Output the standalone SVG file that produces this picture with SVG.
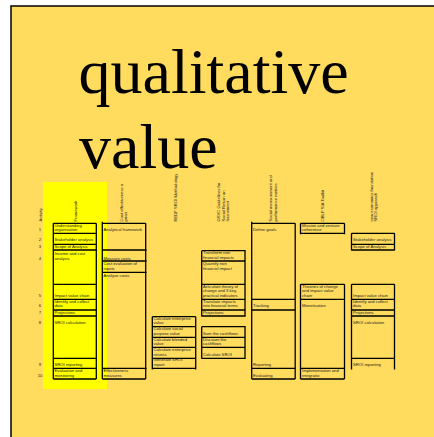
<svg xmlns="http://www.w3.org/2000/svg" width="434" height="437" viewBox="0 0 434 437">
  <style>
    .bg { fill: #FFDB5E; stroke: #000; stroke-width: 1.5; }
    .title { font-family: "Liberation Serif", "Times New Roman", serif; font-size: 64px; fill: #000; }
    .grid { fill: none; stroke: #000; stroke-width: 1.3; }
    .t { font-family: "Liberation Sans", Arial, sans-serif; font-size: 4.2px; fill: #222; }
    .num { font-family: "Liberation Sans", Arial, sans-serif; font-size: 4.2px; fill: #222; text-anchor: middle; }
  </style>

  <!-- page -->
  <rect x="0" y="0" width="434" height="437" fill="#fff"/>
  <rect class="bg" x="11" y="6" width="440" height="440"/>

  <!-- heading -->
  <g id="heading">
    <text class="title" x="78.5" y="93">qualitative</text>
    <text class="title" x="79" y="168">value</text>
  </g>

  <!-- highlighted framework column -->
  <rect x="43" y="182" width="64" height="207" fill="#FFFF00"/>

  <!-- column headings (rotated) -->
  <g id="headings" class="t">
    <text transform="translate(41.5,221.5) rotate(-90)">Activity</text>
    <text transform="translate(76.5,221.5) rotate(-90)">Framework</text>
    <text transform="translate(123,221.5) rotate(-90)">Cost effectiveness a</text>
    <text transform="translate(127.3,221.5) rotate(-90)">priori</text>
    <text transform="translate(176.5,221.5) rotate(-90)">REDF SROI Methodology</text>
    <text transform="translate(219.7,221.5) rotate(-90)">GSVC Guidelines for</text>
    <text transform="translate(224.5,221.5) rotate(-90)">Social Return on</text>
    <text transform="translate(229.3,221.5) rotate(-90)">Investment</text>
    <text transform="translate(272,221.5) rotate(-90)">Social measurement and</text>
    <text transform="translate(277,221.5) rotate(-90)">performance metrics</text>
    <text transform="translate(324,221.5) rotate(-90)">OBLP SIA Toolkit</text>
    <text transform="translate(372.5,221.5) rotate(-90)">new economics foundation</text>
    <text transform="translate(377.3,221.5) rotate(-90)">SROI approach</text>
  </g>

  <!-- activity numbers -->
  <g id="activity">
    <text class="num" x="40" y="230.5">1</text>
    <text class="num" x="40" y="241.2">2</text>
    <text class="num" x="40" y="248">3</text>
    <text class="num" x="40" y="259.5">4</text>
    <text class="num" x="40" y="296.5">5</text>
    <text class="num" x="40" y="307.2">6</text>
    <text class="num" x="40" y="314">7</text>
    <text class="num" x="40" y="324">8</text>
    <text class="num" x="40" y="365.5">9</text>
    <text class="num" x="40" y="376.5">10</text>
  </g>

  <!-- Framework -->
  <g id="framework">
    <path class="grid" d="M53.3,223.3V379 M96.3,223.3V379 M53.3,223.3H96.3 M53.3,233.3H96.3 M53.3,244.3H96.3 M53.3,250H96.3 M53.3,284.3H96.3 M53.3,299.3H96.3 M53.3,310H96.3 M53.3,316H96.3 M53.3,358.3H96.3 M53.3,368.3H96.3 M53.3,379H96.3"/>
    <g class="t">
      <text x="54.5" y="227">Understanding</text>
      <text x="54.5" y="231">organisation</text>
      <text x="54.5" y="241.2">Stakeholder analysis</text>
      <text x="54.5" y="248">Scope of  Analysis</text>
      <text x="54.5" y="254.5">Income and cost</text>
      <text x="54.5" y="259.5">analysis</text>
      <text x="54.5" y="296.5">Impact value chain</text>
      <text x="54.5" y="302.5">Identify and collect</text>
      <text x="54.5" y="307.2">data</text>
      <text x="54.5" y="314">Projections</text>
      <text x="54.5" y="324">SROI calculation</text>
      <text x="54.5" y="365.5">SROI reporting</text>
      <text x="54.5" y="371.5">Evaluation and</text>
      <text x="54.5" y="376.5">monitoring</text>
    </g>
  </g>

  <!-- Cost effectiveness -->
  <g id="cost-effectiveness">
    <path class="grid" d="M102.3,221.8V379 M145.7,223.3V379 M102.3,223.3H145.7 M102.3,250H146.7 M102.3,261H146.7 M102.3,272.3H146.7 M102.3,368.3H146.7 M102.3,379H145.7"/>
    <g class="t">
      <text x="103.5" y="230.5">Analytical framework</text>
      <text x="103.5" y="259.5">Measure costs</text>
      <text x="103.5" y="264.5">Cost evaluation of</text>
      <text x="103.5" y="269.5">inputs</text>
      <text x="103.5" y="276.5">Analyse costs</text>
      <text x="103.5" y="371.5">Effectiveness</text>
      <text x="103.5" y="376.5">measures</text>
    </g>
  </g>

  <!-- REDF -->
  <g id="redf">
    <path class="grid" d="M152.3,316.7V369.5 M195.7,316.7V369.5 M152.3,316.7H195.7 M152.3,326.7H195.7 M152.3,337.3H195.7 M152.3,347.3H195.7 M152.3,358.3H195.7 M152.3,368.3H195.7"/>
    <g class="t">
      <text x="153.5" y="320">Calculate enterprise</text>
      <text x="153.5" y="324">value</text>
      <text x="153.5" y="330">Calculate social</text>
      <text x="153.5" y="334.5">purpose value</text>
      <text x="153.5" y="340.5">Calculate blended</text>
      <text x="153.5" y="344.5">value</text>
      <text x="153.5" y="350.5">Calculate enterprise</text>
      <text x="153.5" y="355.5">returns</text>
      <text x="153.5" y="361.2">Generate SROI</text>
      <text x="153.5" y="365.5">report</text>
    </g>
  </g>

  <!-- GSVC -->
  <g id="gsvc">
    <path class="grid" d="M201.7,250.7V316.5 M245,250.7V316.5 M201.7,250.7H245.7 M201.7,261H245.7 M201.7,284.3H245.7 M201.7,299.3H245.7 M201.7,310H245.7 M201.7,316H245.7 M201.7,326.7V358.8 M245,326.2V358.8 M201.7,326.7H245.7 M201.7,337.3H245.7 M201.7,347.3H245.7 M201.7,358.3H245.7"/>
    <g class="t">
      <text x="203" y="254">Transform non</text>
      <text x="203" y="259">financial impacts</text>
      <text x="203" y="264.5">Quantify non</text>
      <text x="203" y="269.5">financial impact</text>
      <text x="203" y="288">Articulate theory of</text>
      <text x="203" y="292">change and 3 key,</text>
      <text x="203" y="296.5">practical indicators</text>
      <text x="203" y="302.5">Translate impacts</text>
      <text x="203" y="307.2">into financial terms</text>
      <text x="203" y="314">Projections</text>
      <text x="203" y="334.5">Sum the cashflows</text>
      <text x="203" y="340.5">Discount the</text>
      <text x="203" y="344.5">cashflows</text>
      <text x="203" y="355.5">Calculate SROI</text>
    </g>
  </g>

  <!-- Social measurement -->
  <g id="social-measurement">
    <path class="grid" d="M251.7,221.8V379 M295.2,223.3V379 M251.7,223.3H295.2 M251.7,299.3H295.2 M251.7,310H295.2 M251.7,368.3H295.2 M251.7,379H295.2"/>
    <g class="t">
      <text x="253" y="230.5">Define goals</text>
      <text x="253" y="307.2">Tracking</text>
      <text x="253" y="365.5">Reporting</text>
      <text x="253" y="376.5">Evaluating</text>
    </g>
  </g>

  <!-- OBLP toolkit -->
  <g id="oblp">
    <path class="grid" d="M300.5,223.3V234.3 M344.5,223.3V234.3 M300.5,223.3H344.5 M300.5,233.3H344.5 M300.5,284.3V379 M344.5,284.3V379 M300.5,284.3H344.5 M300.5,299.3H344.5 M300.5,368.3H344.5 M300.5,379H344.5"/>
    <g class="t">
      <text x="302" y="227">Mission and venture</text>
      <text x="302" y="231">coherence</text>
      <text x="302" y="288">Theories of change</text>
      <text x="302" y="292">and impact value</text>
      <text x="302" y="296.5">chain</text>
      <text x="302" y="307.2">Monetisation</text>
      <text x="302" y="371.5">Implementation and</text>
      <text x="302" y="376.5">integratio</text>
    </g>
  </g>

  <!-- nef approach -->
  <g id="nef">
    <path class="grid" d="M351.5,233.3V250.5 M394.5,233.3V250.5 M351.5,233.3H394.5 M351.5,244.3H394.5 M351.5,250H394.5 M351.5,284.3V369.5 M394.5,284.3V369.5 M351.5,284.3H394.5 M351.5,299.3H394.5 M351.5,310H394.5 M351.5,316H394.5 M351.5,358.3H394.5"/>
    <g class="t">
      <text x="353" y="241.2">Stakeholder analysis</text>
      <text x="353" y="248">Scope of  Analysis</text>
      <text x="353" y="296.5">Impact value chain</text>
      <text x="353" y="302.5">Identify and collect</text>
      <text x="353" y="307.2">data</text>
      <text x="353" y="314">Projections</text>
      <text x="353" y="324">SROI calculation</text>
      <text x="353" y="365.5">SROI reporting</text>
    </g>
  </g>
</svg>
